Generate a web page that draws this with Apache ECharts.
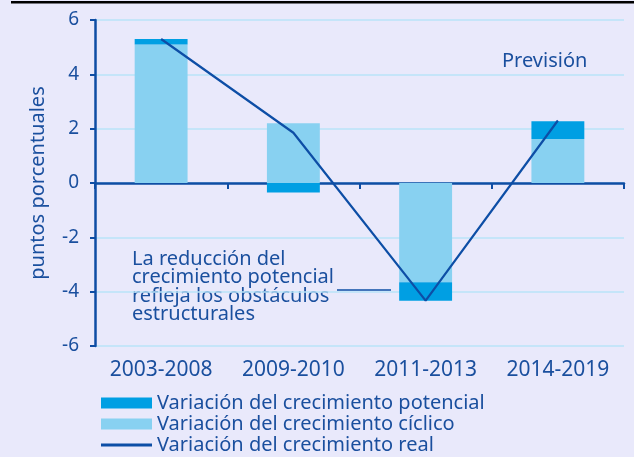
<!DOCTYPE html>
<html>
<head>
<meta charset="utf-8">
<script src="https://cdn.jsdelivr.net/npm/echarts@6/dist/echarts.min.js"></script>
<style>
  html, body { margin: 0; padding: 0; background: #e9e9fb; }
  #chart { width: 634px; height: 457px; }
</style>
</head>
<body>
<div id="chart"></div>
<script>
// periodos
var periodos = ['2003-2008', '2009-2010', '2011-2013', '2014-2019']
// variación del crecimiento
var potencial = [0.2, -0.35, -0.68, 0.65]
var ciclico = [5.1, 2.2, -3.65, 1.62]
var real = [5.3, 1.85, -4.33, 2.3]
var yTicks = [-6, -4, -2, 0, 2, 4, 6]

var azul = '#1a4f9e'
var fuente = 'Noto Sans'

var myChart = echarts.init(document.getElementById('chart'))
var option = {
  backgroundColor: '#e9e9fb',
  textStyle: { fontFamily: fuente },
  grid: { left: 95, right: 10, top: 20, bottom: 111 },
  legend: {
    orient: 'vertical',
    left: 101,
    top: 393,
    padding: 0,
    itemWidth: 51,
    itemHeight: 11,
    itemGap: 1,
    textStyle: { color: azul, fontSize: 20, fontFamily: fuente, lineHeight: 19 },
    data: [
      { name: 'Variación del crecimiento potencial', icon: 'rect' },
      { name: 'Variación del crecimiento cíclico', icon: 'rect' },
      { name: 'Variación del crecimiento real', icon: 'path://M0,0H51V3H0Z' }
    ]
  },
  xAxis: [
    {
      type: 'category',
      data: periodos,
      axisLine: { onZero: true, lineStyle: { color: '#0e4da4', width: 2.5 } },
      axisTick: { show: true, length: 6, lineStyle: { color: '#0e4da4', width: 2 } },
      axisLabel: { show: false },
      splitLine: { show: false }
    },
    {
      type: 'category',
      position: 'bottom',
      data: periodos,
      axisLine: { show: false },
      axisTick: { show: false },
      axisLabel: { color: azul, fontSize: 21, margin: 14, interval: 0 }
    }
  ],
  yAxis: {
    type: 'value',
    min: yTicks[0],
    max: yTicks[yTicks.length - 1],
    interval: 2,
    name: 'puntos porcentuales',
    nameLocation: 'middle',
    nameRotate: 90,
    nameGap: 47,
    nameTextStyle: { color: azul, fontSize: 20 },
    axisLine: { show: true, lineStyle: { color: '#0e4da4', width: 2.5 } },
    axisTick: { show: true, length: 5, lineStyle: { color: '#0e4da4', width: 2 } },
    axisLabel: { color: azul, fontSize: 19, margin: 16 },
    splitLine: { lineStyle: { color: '#b9e3f8', width: 1.5 } }
  },
  series: [
    {
      name: 'Variación del crecimiento cíclico',
      type: 'bar',
      stack: 'total',
      barWidth: '40%',
      itemStyle: { color: '#88d1f1' },
      data: ciclico
    },
    {
      name: 'Variación del crecimiento potencial',
      type: 'bar',
      stack: 'total',
      barWidth: '40%',
      itemStyle: { color: '#009fe3' },
      data: potencial
    },
    {
      name: 'Variación del crecimiento real',
      type: 'line',
      symbol: 'none',
      z: 5,
      lineStyle: { color: '#0d4ea6', width: 2.2 },
      itemStyle: { color: '#0d4ea6' },
      data: real
    }
  ],
  graphic: [
    { type: 'rect', left: 11, top: 1, shape: { width: 623, height: 2.5 }, style: { fill: '#000' } },
    {
      type: 'text', left: 502, top: 51,
      style: { text: 'Previsión', fill: azul, fontSize: 20, fontFamily: fuente }
    },
    {
      type: 'text', left: 132, top: 249,
      style: {
        text: 'La reducción del\ncrecimiento potencial\nrefleja los obstáculos\nestructurales',
        fill: azul, fontSize: 20, lineHeight: 18.5, fontFamily: fuente
      }
    },
    {
      type: 'line',
      shape: { x1: 337, y1: 290, x2: 391, y2: 290 },
      style: { stroke: '#0d4ea6', lineWidth: 1.5 }
    }
  ]
}
myChart.setOption(option)
</script>
</body>
</html>
